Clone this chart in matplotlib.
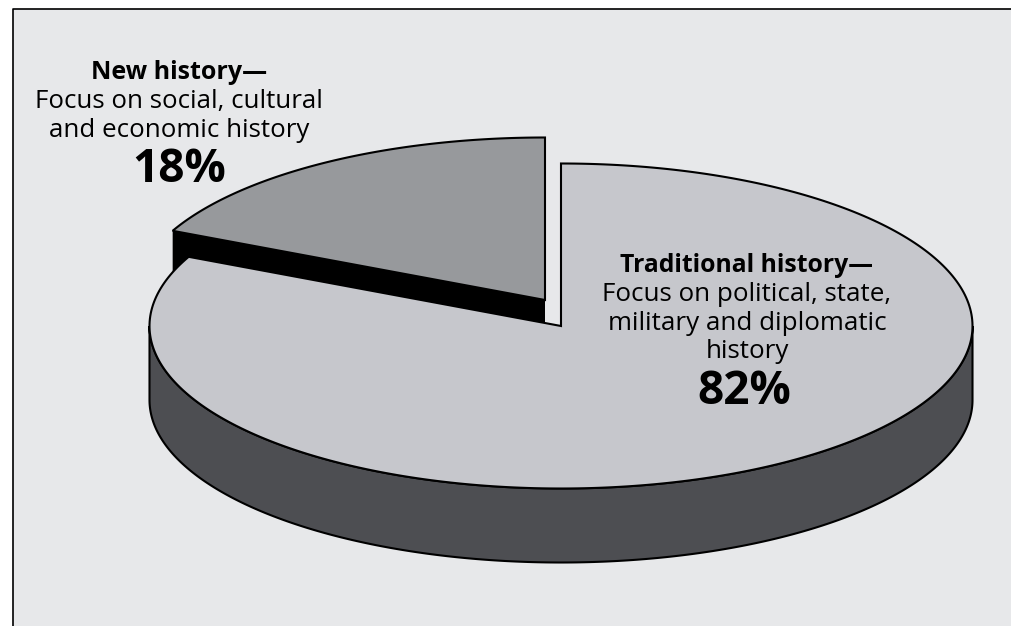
import numpy as np
import matplotlib
matplotlib.use("Agg")
import matplotlib.pyplot as plt

# shares from the chart, new history first
labels = ["New history—", "Traditional history—"]
shares = [18, 82]
descriptions = ["Focus on social, cultural\nand economic history",
                "Focus on political, state,\nmilitary and diplomatic\nhistory"]

PANEL = "#e7e8ea"
NEW_TOP = "#97999c"
TRAD_TOP = "#c6c7cc"
TRAD_SIDE = "#4d4e52"
FONT = "Open Sans"

# ellipse of the tilted pie, in pixels
cx, cy = 561, 326
rx, ry = 411.5, 162.5
depth = 74
# the small slice is pulled out up and to the left
dx, dy = -16, -26


def wedge(start, share, x0, y0):
    stop = start + share * 3.6
    t = np.radians(np.linspace(start, stop, 300))
    xs = x0 + rx * np.cos(t)
    ys = y0 - ry * np.sin(t)
    return np.r_[x0, xs, x0], np.r_[y0, ys, y0]


fig = plt.figure(figsize=(10.11, 6.26), dpi=100, facecolor="white")
ax = fig.add_axes([0, 0, 1, 1])
ax.set_xlim(0, 1011)
ax.set_ylim(626, 0)
ax.axis("off")

# panel
ax.fill([12.5, 1010.5, 1010.5, 12.5], [8.5, 8.5, 626, 626], color=PANEL, lw=0, zorder=0)
ax.plot([12.5, 12.5, 1011], [626, 8.5, 8.5], color="black", lw=1.2, zorder=1)

# new history slice, black wall first
start_new = 90
stop_new = start_new + shares[0] * 3.6
corner = np.radians(stop_new)
wx = cx + dx + rx * np.cos(corner)
wy = cy + dy - ry * np.sin(corner)
ax.fill([wx, cx + dx, cx + dx, wx], [wy, cy + dy, cy + dy + depth, wy + depth],
        color="black", lw=0, zorder=2)
xs, ys = wedge(start_new, shares[0], cx + dx, cy + dy)
ax.fill(xs, ys, facecolor=NEW_TOP, edgecolor="black", lw=1.5, joinstyle="miter", zorder=3)

# traditional history slice: side of the drum, then the top
t = np.radians(np.linspace(180, 360, 300))
side_x = cx + rx * np.cos(t)
side_y = cy - ry * np.sin(t)
ax.fill(np.r_[side_x, side_x[::-1]], np.r_[side_y, side_y[::-1] + depth],
        facecolor=TRAD_SIDE, edgecolor="black", lw=1.5, zorder=4)
xs, ys = wedge(stop_new, shares[1], cx, cy)
ax.fill(xs, ys, facecolor=TRAD_TOP, edgecolor="black", lw=1.5, joinstyle="miter", zorder=5)

# labels
ax.text(179, 72.5, labels[0], ha="center", va="center", family=FONT, weight="bold", fontsize=18, zorder=10)
ax.text(179, 116, descriptions[0], ha="center", va="center", family=FONT, fontsize=18.6, linespacing=1.19, zorder=10)
ax.text(179, 170, f"{shares[0]}%", ha="center", va="center", family=FONT, weight="bold", fontsize=33, zorder=10)

ax.text(747, 265, labels[1], ha="center", va="center", family=FONT, weight="bold", fontsize=17.8, zorder=10)
ax.text(747, 323, descriptions[1], ha="center", va="center", family=FONT, fontsize=18.7, linespacing=1.2, zorder=10)
ax.text(744, 392, f"{shares[1]}%", ha="center", va="center", family=FONT, weight="bold", fontsize=33, zorder=10)

fig.savefig("out.png", dpi=100)
